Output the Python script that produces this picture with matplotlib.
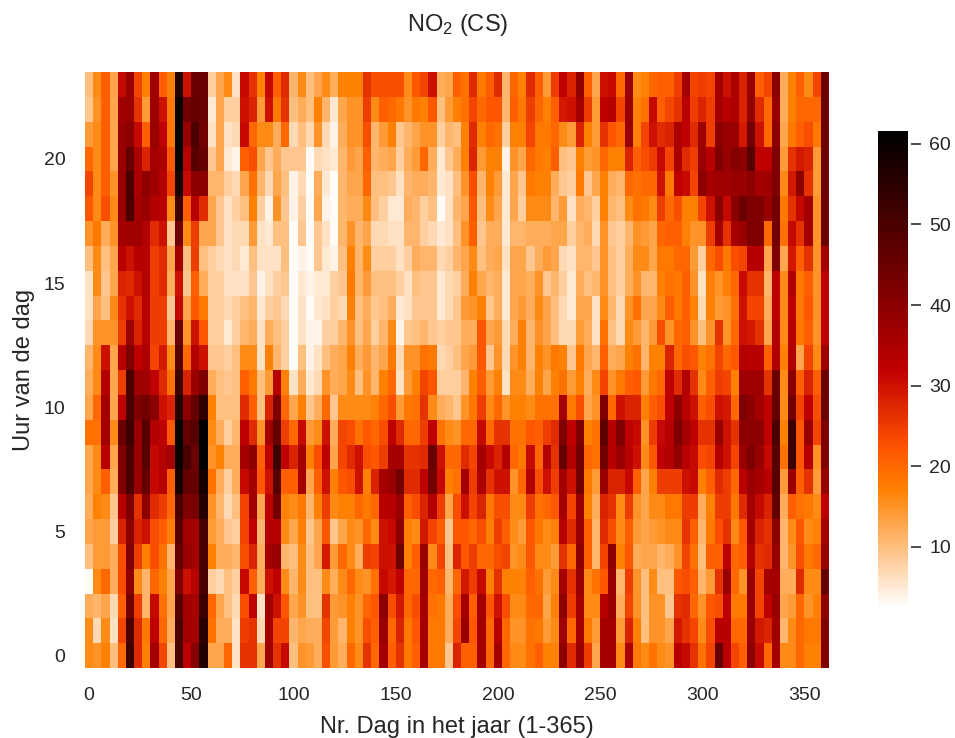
import numpy as np
import matplotlib
matplotlib.use('Agg')
import matplotlib.pyplot as plt
from matplotlib.patches import Rectangle

plt.rcParams['font.family'] = ['Liberation Sans', 'DejaVu Sans']
plt.rcParams['mathtext.default'] = 'regular'
plt.rcParams['text.color'] = '.15'
plt.rcParams['axes.labelcolor'] = '.15'
plt.rcParams['xtick.color'] = '.15'
plt.rcParams['ytick.color'] = '.15'

W, H = 955, 738

days = np.arange(0, 364, 4)
hours = np.arange(24)

h00 = [16,15,17,10,20,52,27,17,36,24,10,50,32,41,56,13,13,20,6,26,26,13,37,26,31,10,15,14,12,23,14,
       12,20,16,26,20,36,21,26,18,21,36,18,18,9,28,21,21,36,20,36,20,16,16,19,21,17,17,40,27,38,
       25,13,36,36,16,35,18,16,19,16,15,33,31,26,19,24,46,33,24,21,40,31,20,36,16,16,20,17,17,42]
h01 = [16,7,16,6,24,50,27,18,32,20,12,50,36,36,55,19,12,12,6,25,26,7,36,24,24,11,13,12,12,24,14,
       11,17,15,23,21,38,20,28,18,22,36,18,18,12,24,38,22,36,20,33,20,15,15,19,18,14,16,37,20,36,
       18,14,36,36,14,28,17,10,15,15,13,29,26,24,16,23,33,33,20,20,38,29,28,37,11,16,20,18,18,42]
h02 = [12,11,13,7,21,44,25,11,31,19,13,48,36,36,52,20,13,10,7,23,32,6,37,30,22,13,15,10,10,26,14,
       15,17,15,20,22,40,23,29,20,23,36,19,18,12,23,36,21,36,22,30,23,16,16,20,20,13,17,40,25,36,
       16,16,33,38,12,24,15,10,15,15,9,26,27,20,15,22,23,32,18,18,38,24,32,38,13,14,20,15,17,40]
h03 = [3,16,20,12,23,40,16,11,20,17,13,42,30,33,50,8,7,10,8,31,21,12,30,32,16,11,16,10,10,16,12,
       16,20,16,15,19,31,29,32,20,20,37,20,21,11,20,29,25,31,17,26,17,17,17,21,19,14,16,36,26,38,
       16,19,22,38,11,25,15,10,16,10,10,22,23,21,11,14,26,38,20,15,38,24,36,36,12,12,27,16,16,46]
h04 = [10,14,14,12,23,42,25,17,23,19,11,46,38,36,50,17,12,12,11,23,28,12,36,38,11,10,16,10,13,29,14,
       20,16,12,25,24,30,30,45,17,21,38,16,24,10,28,22,25,20,20,23,24,15,16,22,16,16,14,26,20,40,
       21,11,24,40,17,22,12,13,13,11,12,15,24,19,10,21,21,32,20,21,34,26,27,38,11,15,23,18,20,38]
h05 = [13,14,14,8,28,40,28,30,23,21,17,48,36,36,50,14,12,9,8,24,32,11,34,33,16,13,17,9,13,22,9,
       13,16,15,20,16,30,31,40,17,16,29,24,21,9,22,22,20,23,17,25,21,16,14,22,18,16,17,33,27,38,
       21,11,27,23,16,21,14,13,14,15,16,16,26,21,11,18,23,26,16,22,36,28,26,40,11,16,22,16,17,36]
h06 = [12,17,16,9,33,42,26,40,27,25,20,50,42,43,56,15,11,7,10,24,36,13,32,44,17,16,18,11,17,25,16,
       17,17,20,18,20,33,33,38,21,23,28,34,25,13,23,30,24,28,18,23,23,16,16,25,19,20,22,36,24,38,
       17,12,28,26,16,25,15,13,16,16,18,18,25,25,12,17,25,25,18,27,36,31,28,46,12,21,19,18,16,32]
h07 = [13,16,21,12,42,50,38,46,31,33,21,58,46,46,58,19,12,8,12,31,36,22,30,48,21,21,36,13,21,30,17,
       22,23,30,17,28,36,38,44,27,27,32,44,31,17,19,36,25,35,26,30,30,15,20,34,23,30,25,36,30,44,
       18,14,38,28,28,31,21,13,17,25,25,25,30,31,17,21,27,25,20,33,38,36,33,48,14,38,21,26,14,38]
h08 = [13,16,33,13,42,50,38,48,31,34,36,60,50,45,62,15,17,12,12,36,40,21,32,52,32,28,36,17,23,32,13,
       24,27,30,23,22,25,36,36,26,26,27,45,30,20,20,27,24,36,31,28,34,20,18,31,20,34,26,46,34,44,
       20,19,44,33,38,33,30,16,22,32,34,39,33,31,23,24,34,30,24,38,42,38,31,48,19,52,22,33,15,42]
h09 = [19,19,36,16,45,52,38,48,34,32,22,62,46,48,62,16,12,8,11,32,27,15,36,46,25,20,31,14,16,30,12,
       24,23,19,22,20,23,32,27,20,20,25,32,19,16,15,20,20,31,20,26,26,19,19,22,21,25,27,42,32,42,
       17,19,47,33,42,32,31,15,25,31,33,42,36,32,26,26,38,30,26,40,40,40,32,50,17,52,22,38,24,42]
h10 = [13,20,36,13,32,50,42,44,40,30,28,56,40,46,54,17,10,10,10,27,21,10,28,42,20,13,17,9,12,20,9,
       16,16,16,16,17,20,23,14,18,19,26,16,12,11,9,15,18,25,16,20,15,17,17,16,19,19,19,36,18,23,
       13,15,42,20,30,28,28,17,21,23,32,40,33,30,21,23,30,29,20,42,40,36,32,46,16,44,24,32,23,45]
h11 = [12,16,34,13,25,50,37,37,32,27,19,52,28,38,42,12,10,9,10,21,18,10,14,33,17,6,12,5,7,15,12,
       13,16,10,15,11,17,20,6,14,17,24,22,8,8,8,11,17,21,14,17,6,16,16,12,17,13,17,19,14,17,
       12,16,24,15,18,21,22,14,18,20,32,27,34,26,16,21,25,24,17,37,37,37,26,45,16,40,21,28,21,45]
h12 = [11,16,30,13,33,42,32,35,24,29,16,48,20,34,30,9,9,8,10,16,16,6,17,11,8,3,10,4,6,10,12,
       13,17,12,14,11,13,18,7,15,15,19,18,7,8,10,13,14,22,9,15,7,15,17,11,17,15,18,17,9,18,
       13,11,21,12,13,17,19,11,17,17,28,20,23,22,17,19,24,20,22,34,33,33,21,34,17,34,13,24,16,37]
h13 = [7,15,15,15,25,38,28,33,25,25,11,45,15,30,22,8,8,5,8,11,12,6,12,10,8,3,6,4,4,8,8,
       11,15,10,13,8,11,16,4,9,10,11,9,8,9,9,12,12,22,13,14,7,12,17,11,15,13,10,7,7,14,
       12,6,19,10,7,16,14,11,14,23,15,20,21,15,10,15,26,15,20,30,29,26,13,34,16,33,18,21,15,32]
h14 = [6,13,10,16,26,30,27,33,25,25,9,31,13,22,18,8,8,7,8,10,11,5,8,9,7,3,6,3,5,6,8,
       7,17,10,12,9,10,12,5,6,9,9,9,5,7,9,14,15,17,9,12,5,13,14,12,16,13,10,7,5,13,
       13,6,16,11,7,15,19,13,13,16,21,18,21,17,7,17,14,15,19,30,24,24,12,32,16,32,18,22,15,32]
h15 = [6,16,9,13,28,27,30,34,25,27,12,30,9,21,12,8,8,6,6,6,9,4,6,8,9,3,5,4,5,5,8,
       9,18,11,14,10,10,10,8,6,10,9,9,5,7,8,12,17,13,11,12,5,13,13,12,15,9,11,8,5,12,
       10,11,15,10,8,12,15,11,11,17,19,18,21,15,6,17,15,17,20,31,26,26,11,32,16,34,18,21,15,32]
h16 = [10,16,10,13,33,30,33,33,25,27,13,36,10,25,10,8,7,6,7,5,10,6,6,6,10,3,4,3,9,5,4,
       10,17,11,16,8,8,8,6,8,12,11,11,7,8,11,13,16,10,12,13,6,13,13,9,12,14,13,7,6,11,
       11,9,15,10,8,12,16,16,13,18,18,20,20,14,8,20,23,18,23,24,33,33,13,42,13,29,21,26,15,36]
h17 = [15,18,12,15,36,37,37,34,27,30,9,44,16,25,13,13,9,6,7,7,14,6,5,10,10,3,9,3,9,6,3,
       11,15,11,13,7,7,6,6,11,11,8,7,5,6,10,15,21,9,12,12,5,11,11,12,12,12,13,13,8,11,
       12,7,15,9,8,11,15,14,13,20,21,21,17,15,15,25,36,26,36,38,42,42,20,44,19,31,26,36,15,45]
h18 = [22,16,23,16,38,50,36,38,34,33,16,52,21,33,27,13,9,6,8,10,17,8,4,15,9,4,8,3,13,4,3,
       11,12,12,16,10,8,5,5,12,11,8,10,3,6,11,13,22,10,16,13,5,13,8,16,16,16,11,14,6,12,
       11,8,17,11,10,16,19,18,16,25,20,23,17,17,24,30,40,31,40,45,42,42,38,44,18,26,31,36,15,45]
h19 = [24,16,21,15,38,50,35,40,37,34,24,58,31,40,40,11,11,8,7,13,19,11,7,13,10,4,7,3,12,5,3,
       11,13,13,20,10,10,9,6,11,12,12,11,5,6,10,15,23,11,17,14,5,13,9,18,17,17,12,9,8,18,
       9,13,17,12,11,20,19,20,20,30,18,32,31,24,40,36,37,37,38,38,40,36,37,42,16,29,40,26,14,45]
h20 = [20,16,21,13,38,46,35,28,36,35,22,62,33,48,46,9,13,5,4,21,23,13,9,12,9,9,9,3,7,6,5,
       11,14,13,21,11,12,13,8,12,14,20,12,5,9,12,17,28,14,17,17,4,15,13,20,18,17,21,10,9,17,
       14,15,20,17,17,28,21,23,25,31,24,35,27,25,38,33,42,38,41,40,48,32,32,42,14,26,29,28,14,45]
h21 = [14,16,21,13,38,40,31,21,38,32,18,62,38,50,44,6,13,6,7,31,20,16,16,12,20,7,10,7,15,7,4,
       12,15,15,23,11,14,17,9,11,13,15,15,8,11,10,17,27,17,20,19,8,17,17,24,18,18,20,16,14,28,
       17,14,26,22,20,38,17,24,30,27,28,35,32,27,37,25,40,38,38,29,44,30,20,40,13,18,21,23,18,45]
h22 = [9,15,21,13,37,38,26,14,37,30,18,60,44,46,45,5,13,8,8,30,28,14,30,18,26,10,12,10,17,11,5,
       13,15,15,25,16,21,20,18,15,18,17,22,10,14,17,19,24,20,22,22,11,21,18,25,20,17,21,29,30,36,
       25,14,32,33,24,38,17,19,31,21,24,26,33,25,28,25,36,33,35,28,39,27,20,38,12,17,20,20,20,45]
h23 = [10,16,21,13,31,38,24,17,37,21,17,56,30,45,45,8,13,16,6,31,26,17,31,21,27,11,16,10,13,16,12,
       17,17,17,26,23,23,23,23,16,22,24,30,12,13,21,19,27,18,21,27,11,20,17,27,21,14,25,32,28,39,
       21,13,30,31,20,38,16,17,20,21,21,25,36,24,25,24,36,30,35,28,38,21,24,40,12,17,21,16,24,45]

no2 = np.array([h00, h01, h02, h03, h04, h05, h06, h07, h08, h09, h10, h11,
                h12, h13, h14, h15, h16, h17, h18, h19, h20, h21, h22, h23])

fig = plt.figure(figsize=(W / 100, H / 100), dpi=100, facecolor='white')
ax = fig.add_axes([85 / W, 1 - 668 / H, 744 / W, 596 / H])
mesh = ax.pcolormesh(days, hours, no2, cmap='gist_heat_r', vmin=2.4, vmax=61.6,
                     shading='nearest')

ax.set_xticks([0, 50, 100, 150, 200, 250, 300, 350])
ax.set_yticks([0, 5, 10, 15, 20])
ax.tick_params(length=0, labelsize=14, pad=14)
ax.set_xlabel('Nr. Dag in het jaar (1-365)', fontsize=17, labelpad=8)
ax.set_ylabel('Uur van de dag', fontsize=17, labelpad=6)
for s in ax.spines.values():
    s.set_visible(False)

cax = fig.add_axes([878 / W, 1 - 608 / H, 30 / W, 477 / H])
cbar = fig.colorbar(mesh, cax=cax)
cbar.set_ticks([10, 20, 30, 40, 50, 60])
cbar.ax.tick_params(length=9.4, width=1.4, labelsize=14, pad=6, color='.3')
cbar.outline.set_visible(False)

# small white gap between the bar and its tick marks
fig.add_artist(Rectangle((908 / W, 1 - 608 / H), 3 / W, 477 / H, transform=fig.transFigure,
                         facecolor='white', edgecolor='none', zorder=5))

fig.text(458 / W, 1 - 25 / H, 'NO$_2$ (CS)', fontsize=17, ha='center', va='center')

fig.savefig('out.png', dpi=100)
